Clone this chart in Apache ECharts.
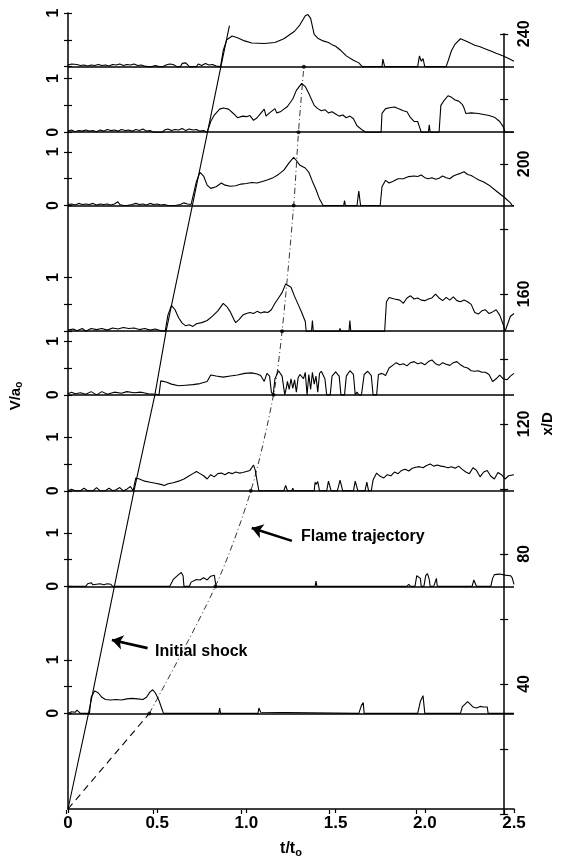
<!DOCTYPE html>
<html><head><meta charset="utf-8">
<script src="https://cdn.jsdelivr.net/npm/echarts@6/dist/echarts.min.js"></script>
<style>html,body{margin:0;padding:0;background:#fff}#c{width:563px;height:863px}</style>
</head><body><div id="c"></div>
<script>
// gauge stations (x/D) from top to bottom
const stations = [229.8, 209.5, 186.8, 147.9, 128.2, 98.5, 68.9, 29.6];
const showZeroLabel = [false, true, true, false, true, true, true, true];
// x/D units per 1 V/a0
const velScale = 16.6;

const xTicks = [0, 0.5, 1.0, 1.5, 2.0, 2.5];
const rightTicks = [40, 80, 120, 160, 200, 240];

// V/a0 traces [t/t0, V/a0]
const trace230 = [[0.00,0.03],[0.02,0.05],[0.03,0.02],[0.05,0.04],[0.07,0.02],[0.09,0.03],[0.11,0.01],[0.13,0.03],[0.15,0.02],[0.17,0.04],[0.19,0.02],[0.21,0.03],[0.23,0.01],[0.25,0.04],[0.27,0.03],[0.29,0.05],[0.31,0.02],[0.33,0.04],[0.35,0.03],[0.37,0.05],[0.39,0.02],[0.41,0.03],[0.43,0.01],[0.45,0.0],[0.47,0.0],[0.49,0.02],[0.51,0.0],[0.53,0.0],[0.55,0.03],[0.57,0.05],[0.59,0.04],[0.61,0.0],[0.63,0.0],[0.64,0.06],[0.65,0.03],[0.66,0.07],[0.68,0.0],[0.72,0.0],[0.73,0.05],[0.75,0.02],[0.77,0.06],[0.79,0.03],[0.81,0.04],[0.83,0.01],[0.855,0.0],
[0.87,0.3],[0.89,0.5],[0.92,0.57],[0.95,0.54],[0.99,0.48],[1.03,0.44],[1.1,0.43],[1.16,0.45],[1.21,0.52],[1.27,0.66],[1.30,0.78],[1.33,0.95],[1.345,0.97],[1.36,0.9],[1.38,0.6],[1.40,0.53],[1.43,0.48],[1.46,0.45],[1.48,0.41],[1.50,0.38],[1.53,0.3],[1.56,0.2],[1.60,0.12],[1.63,0.07],[1.65,0.0],[1.76,0.0],[1.765,0.14],[1.775,0.0],[1.96,0.0],[1.97,0.2],[1.98,0.1],[1.99,0.15],[2.0,0.0],[2.12,0.0],[2.15,0.3],[2.17,0.42],[2.2,0.52],[2.23,0.48],[2.26,0.43],[2.28,0.4],[2.31,0.37],[2.34,0.33],[2.37,0.29],[2.40,0.25],[2.44,0.2],[2.47,0.15],[2.5,0.1]];

const trace210 = [[0.00,0.02],[0.02,0.04],[0.04,0.01],[0.06,0.03],[0.08,0.02],[0.10,0.04],[0.12,0.02],[0.14,0.03],[0.16,0.01],[0.18,0.04],[0.20,0.02],[0.22,0.05],[0.24,0.03],[0.26,0.04],[0.28,0.02],[0.30,0.05],[0.32,0.03],[0.34,0.04],[0.36,0.02],[0.38,0.05],[0.40,0.03],[0.42,0.06],[0.44,0.02],[0.46,0.03],[0.48,0.0],[0.53,0.0],[0.54,0.04],[0.56,0.06],[0.58,0.03],[0.60,0.05],[0.62,0.04],[0.64,0.07],[0.66,0.03],[0.68,0.06],[0.70,0.04],[0.72,0.05],[0.74,0.02],[0.76,0.03],[0.78,0.0],
[0.80,0.2],[0.82,0.32],[0.85,0.43],[0.87,0.45],[0.90,0.43],[0.93,0.34],[0.95,0.27],[0.98,0.3],[1.0,0.29],[1.02,0.31],[1.04,0.22],[1.06,0.27],[1.08,0.35],[1.10,0.43],[1.11,0.3],[1.13,0.36],[1.16,0.44],[1.17,0.36],[1.19,0.38],[1.21,0.43],[1.23,0.48],[1.26,0.62],[1.28,0.78],[1.31,0.91],[1.33,0.85],[1.35,0.72],[1.38,0.5],[1.40,0.44],[1.42,0.4],[1.44,0.42],[1.46,0.36],[1.48,0.38],[1.50,0.34],[1.52,0.3],[1.54,0.32],[1.56,0.27],[1.58,0.3],[1.60,0.25],[1.62,0.12],[1.65,0.04],[1.67,0.0],[1.755,0.0],[1.76,0.35],[1.78,0.44],[1.81,0.46],[1.83,0.47],[1.85,0.44],[1.88,0.4],[1.90,0.38],[1.92,0.27],[1.94,0.2],[1.96,0.2],[1.97,0.1],[1.98,0.0],[2.02,0.0],[2.025,0.14],[2.03,0.0],[2.08,0.0],[2.09,0.5],[2.11,0.6],[2.13,0.68],[2.15,0.65],[2.17,0.6],[2.19,0.58],[2.21,0.52],[2.22,0.45],[2.23,0.35],[2.26,0.36],[2.30,0.35],[2.33,0.33],[2.36,0.31],[2.39,0.28],[2.42,0.2],[2.44,0.1],[2.45,0.0],[2.5,0.0]];

const trace187 = [[0.00,0.02],[0.02,0.03],[0.04,0.01],[0.06,0.04],[0.08,0.02],[0.10,0.03],[0.12,0.02],[0.14,0.04],[0.16,0.01],[0.18,0.03],[0.20,0.02],[0.22,0.03],[0.24,0.01],[0.26,0.03],[0.28,0.07],[0.29,0.02],[0.31,0.0],[0.33,0.0],[0.34,0.03],[0.36,0.02],[0.38,0.04],[0.40,0.02],[0.42,0.03],[0.44,0.01],[0.46,0.04],[0.48,0.02],[0.50,0.03],[0.52,0.01],[0.54,0.02],[0.56,0.0],[0.60,0.0],[0.61,0.03],[0.63,0.02],[0.65,0.05],[0.67,0.03],[0.69,0.02],[0.70,0.0],
[0.72,0.45],[0.74,0.62],[0.76,0.55],[0.78,0.38],[0.80,0.32],[0.83,0.35],[0.86,0.42],[0.88,0.38],[0.91,0.36],[0.94,0.37],[0.97,0.4],[1.00,0.41],[1.03,0.43],[1.06,0.42],[1.09,0.45],[1.12,0.48],[1.15,0.52],[1.18,0.58],[1.21,0.66],[1.24,0.8],[1.265,0.9],[1.28,0.84],[1.30,0.75],[1.33,0.7],[1.35,0.62],[1.37,0.45],[1.39,0.3],[1.41,0.12],[1.43,0.0],[1.545,0.0],[1.55,0.09],[1.555,0.0],[1.62,0.0],[1.63,0.27],[1.64,0.0],[1.75,0.0],[1.76,0.35],[1.78,0.47],[1.80,0.42],[1.82,0.45],[1.85,0.5],[1.88,0.5],[1.91,0.54],[1.94,0.55],[1.96,0.54],[1.98,0.57],[2.0,0.52],[2.02,0.5],[2.04,0.52],[2.06,0.49],[2.08,0.51],[2.10,0.55],[2.12,0.52],[2.14,0.5],[2.16,0.55],[2.18,0.58],[2.20,0.6],[2.22,0.63],[2.24,0.58],[2.26,0.56],[2.28,0.52],[2.30,0.48],[2.33,0.44],[2.36,0.38],[2.39,0.3],[2.42,0.22],[2.45,0.14],[2.48,0.05],[2.49,0.0],[2.5,0.0]];

const trace148 = [[0,0.02],[0.03,0.04],[0.05,0.01],[0.08,0.05],[0.1,0.0],[0.13,0.05],[0.16,0.03],[0.19,0.05],[0.22,0.02],[0.25,0.06],[0.28,0.04],[0.31,0.07],[0.34,0.05],[0.37,0.06],[0.40,0.03],[0.43,0.05],[0.46,0.02],[0.49,0.04],[0.52,0.01],[0.545,0.0],[0.56,0.3],[0.58,0.48],[0.60,0.4],[0.62,0.25],[0.64,0.15],[0.66,0.1],[0.68,0.12],[0.70,0.09],[0.72,0.14],[0.75,0.16],[0.78,0.2],[0.81,0.28],[0.84,0.38],[0.87,0.52],[0.89,0.46],[0.91,0.36],[0.93,0.22],[0.94,0.16],[0.96,0.22],[0.98,0.3],[1.0,0.33],[1.02,0.35],[1.04,0.33],[1.06,0.37],[1.08,0.34],[1.10,0.36],[1.12,0.35],[1.14,0.4],[1.16,0.52],[1.18,0.62],[1.20,0.72],[1.22,0.88],[1.23,0.9],[1.25,0.82],[1.27,0.65],[1.29,0.5],[1.31,0.35],[1.33,0.18],[1.335,0.0],[1.365,0.0],[1.37,0.2],[1.375,0.0],[1.52,0.0],[1.525,0.05],[1.53,0.0],[1.575,0.0],[1.58,0.2],[1.585,0.0],[1.775,0.0],[1.785,0.55],[1.80,0.63],[1.83,0.6],[1.86,0.58],[1.88,0.52],[1.90,0.62],[1.92,0.66],[1.94,0.6],[1.96,0.62],[1.98,0.58],[2.0,0.57],[2.02,0.6],[2.04,0.62],[2.06,0.69],[2.08,0.62],[2.10,0.57],[2.12,0.63],[2.14,0.58],[2.16,0.64],[2.18,0.57],[2.20,0.55],[2.22,0.58],[2.24,0.55],[2.26,0.5],[2.28,0.35],[2.30,0.32],[2.32,0.38],[2.34,0.4],[2.36,0.33],[2.38,0.36],[2.40,0.4],[2.42,0.3],[2.44,0.12],[2.45,0.0],[2.46,0.0],[2.48,0.28],[2.5,0.33]];

const trace128 = [[0,0.02],[0.02,0.05],[0.04,0.02],[0.07,0.04],[0.1,0.01],[0.13,0.06],[0.16,0.0],[0.19,0.06],[0.22,0.01],[0.26,0.05],[0.3,0.03],[0.33,0.06],[0.37,0.04],[0.41,0.05],[0.45,0.02],[0.49,0.01],[0.51,0.0],[0.52,0.26],[0.55,0.24],[0.58,0.2],[0.62,0.17],[0.66,0.18],[0.70,0.19],[0.74,0.21],[0.78,0.25],[0.80,0.37],[0.83,0.35],[0.87,0.33],[0.91,0.35],[0.95,0.37],[0.99,0.4],[1.03,0.41],[1.06,0.39],[1.08,0.36],[1.10,0.25],[1.115,0.4],[1.13,0.35],[1.14,0.05],[1.15,0.0],[1.16,0.3],[1.18,0.45],[1.20,0.35],[1.215,0.0],[1.225,0.15],[1.23,0.25],[1.24,0.1],[1.25,0.3],[1.26,0.12],[1.27,0.28],[1.28,0.05],[1.29,0.32],[1.30,0.38],[1.32,0.3],[1.33,0.42],[1.34,0.0],[1.35,0.38],[1.36,0.1],[1.37,0.42],[1.38,0.2],[1.39,0.35],[1.40,0.05],[1.41,0.4],[1.42,0.44],[1.44,0.3],[1.45,0.0],[1.47,0.0],[1.48,0.35],[1.50,0.43],[1.52,0.35],[1.53,0.0],[1.55,0.0],[1.56,0.35],[1.58,0.45],[1.60,0.38],[1.61,0.0],[1.62,0.05],[1.63,0.0],[1.645,0.0],[1.66,0.38],[1.68,0.44],[1.70,0.36],[1.71,0.0],[1.73,0.0],[1.74,0.38],[1.76,0.4],[1.78,0.36],[1.80,0.5],[1.82,0.55],[1.84,0.6],[1.86,0.56],[1.88,0.58],[1.90,0.54],[1.92,0.6],[1.94,0.62],[1.96,0.58],[1.98,0.6],[2.00,0.56],[2.02,0.62],[2.04,0.65],[2.06,0.58],[2.08,0.55],[2.10,0.6],[2.12,0.57],[2.14,0.55],[2.16,0.6],[2.18,0.62],[2.20,0.56],[2.22,0.52],[2.24,0.5],[2.26,0.45],[2.28,0.44],[2.30,0.45],[2.32,0.42],[2.34,0.42],[2.36,0.38],[2.38,0.25],[2.40,0.3],[2.42,0.37],[2.44,0.3],[2.46,0.28],[2.48,0.35],[2.5,0.4]];

const trace99 = [[0,0.0],[0.02,0.03],[0.04,0.0],[0.07,0.0],[0.09,0.05],[0.11,0.0],[0.14,0.0],[0.16,0.06],[0.18,0.0],[0.21,0.0],[0.23,0.05],[0.25,0.0],[0.27,0.02],[0.29,0.06],[0.31,0.0],[0.33,0.03],[0.35,0.08],[0.365,0.0],[0.375,0.0],[0.38,0.24],[0.40,0.22],[0.43,0.18],[0.46,0.16],[0.49,0.14],[0.52,0.12],[0.54,0.1],[0.56,0.13],[0.59,0.15],[0.62,0.18],[0.65,0.22],[0.68,0.28],[0.70,0.32],[0.72,0.36],[0.74,0.32],[0.76,0.28],[0.78,0.22],[0.80,0.3],[0.82,0.26],[0.84,0.32],[0.86,0.33],[0.88,0.3],[0.90,0.34],[0.92,0.32],[0.94,0.35],[0.96,0.33],[0.98,0.34],[1.00,0.36],[1.02,0.38],[1.04,0.48],[1.05,0.38],[1.06,0.18],[1.07,0.0],[1.21,0.0],[1.22,0.1],[1.23,0.0],[1.255,0.0],[1.26,0.05],[1.265,0.0],[1.38,0.0],[1.385,0.16],[1.39,0.12],[1.40,0.17],[1.41,0.0],[1.45,0.0],[1.46,0.18],[1.475,0.0],[1.51,0.0],[1.525,0.2],[1.54,0.0],[1.60,0.0],[1.61,0.18],[1.625,0.0],[1.665,0.0],[1.675,0.16],[1.685,0.0],[1.70,0.0],[1.71,0.2],[1.73,0.33],[1.75,0.27],[1.77,0.24],[1.79,0.3],[1.81,0.28],[1.83,0.35],[1.85,0.32],[1.87,0.38],[1.89,0.4],[1.91,0.37],[1.93,0.42],[1.95,0.44],[1.97,0.45],[1.99,0.43],[2.01,0.47],[2.03,0.5],[2.05,0.46],[2.07,0.48],[2.09,0.46],[2.11,0.45],[2.13,0.43],[2.15,0.45],[2.17,0.42],[2.19,0.46],[2.21,0.4],[2.23,0.35],[2.25,0.32],[2.27,0.43],[2.29,0.38],[2.31,0.26],[2.33,0.35],[2.35,0.38],[2.37,0.27],[2.39,0.22],[2.41,0.34],[2.43,0.3],[2.45,0.22],[2.47,0.28],[2.5,0.3]];

const trace69 = [[0,0.0],[0.10,0.0],[0.11,0.05],[0.12,0.02],[0.13,0.07],[0.14,0.03],[0.15,0.06],[0.16,0.04],[0.17,0.07],[0.18,0.05],[0.19,0.06],[0.20,0.03],[0.21,0.06],[0.22,0.05],[0.23,0.02],[0.24,0.04],[0.25,0.0],[0.57,0.0],[0.575,0.03],[0.59,0.13],[0.62,0.22],[0.635,0.26],[0.645,0.2],[0.65,0.0],[0.68,0.0],[0.69,0.08],[0.70,0.05],[0.72,0.13],[0.74,0.12],[0.76,0.16],[0.78,0.12],[0.80,0.19],[0.82,0.21],[0.83,0.0],[1.385,0.0],[1.39,0.1],[1.395,0.0],[1.90,0.0],[1.91,0.04],[1.92,0.0],[1.945,0.0],[1.955,0.2],[1.965,0.23],[1.975,0.15],[1.98,0.0],[1.995,0.0],[2.005,0.2],[2.015,0.24],[2.025,0.13],[2.03,0.0],[2.05,0.0],[2.06,0.1],[2.065,0.15],[2.07,0.0],[2.265,0.0],[2.275,0.12],[2.285,0.1],[2.29,0.0],[2.37,0.0],[2.38,0.15],[2.39,0.22],[2.42,0.23],[2.45,0.21],[2.48,0.2],[2.49,0.16],[2.5,0.04]];

const trace30 = [[0,0.0],[0.02,0.03],[0.03,0.05],[0.04,0.02],[0.05,0.06],[0.06,0.03],[0.07,0.0],[0.12,0.0],[0.13,0.3],[0.15,0.42],[0.17,0.38],[0.19,0.3],[0.21,0.26],[0.24,0.25],[0.27,0.26],[0.30,0.25],[0.33,0.27],[0.36,0.28],[0.39,0.27],[0.42,0.26],[0.44,0.3],[0.46,0.4],[0.475,0.44],[0.49,0.38],[0.51,0.24],[0.53,0.05],[0.535,0.0],[0.845,0.0],[0.85,0.1],[0.855,0.0],[1.065,0.0],[1.07,0.1],[1.08,0.02],[1.09,0.0],[1.63,0.0],[1.645,0.15],[1.655,0.2],[1.66,0.0],[1.96,0.0],[1.975,0.22],[1.99,0.33],[2.0,0.0],[2.2,0.0],[2.21,0.12],[2.24,0.22],[2.27,0.12],[2.29,0.1],[2.31,0.13],[2.33,0.12],[2.35,0.12],[2.355,0.0],[2.5,0.0]];

const traces = [trace230, trace210, trace187, trace148, trace128, trace99, trace69, trace30];

// trajectories [t/t0, x/D]
const shockT = [0, 0.115, 0.26, 0.37, 0.487, 0.55, 0.697, 0.782, 0.857, 0.905];
const shockX = [0, 29.6, 68.9, 98.5, 128.2, 147.9, 186.8, 209.5, 229.8, 242.5];
const flameT = [0, 0.456, 0.826, 1.025, 1.152, 1.2, 1.265, 1.292, 1.322];
const flameX = [0, 29.6, 68.9, 98.5, 128.2, 147.9, 186.8, 209.5, 229.8];

const FONT = '"Liberation Sans", Arial, sans-serif';
const yMax = stations[0] + velScale;

const tickVals = [];
const labelVals = [];
stations.forEach((s, i) => {
  tickVals.push(s, s + velScale / 2, s + velScale);
  if (showZeroLabel[i]) labelVals.push(s);
  labelVals.push(s + velScale);
});
function leftLabel(v) {
  for (const s of stations) {
    if (Math.abs(v - s) < 0.01) return '0';
    if (Math.abs(v - s - velScale) < 0.01) return '1';
  }
  return '';
}

const series = [];
traces.forEach((tr, i) => {
  series.push({
    type: 'line', xAxisIndex: 0, yAxisIndex: 0, showSymbol: false, silent: true,
    lineStyle: { color: '#000', width: 1.1 },
    data: tr.map(p => [p[0], stations[i] + p[1] * velScale]),
    markLine: {
      silent: true, symbol: 'none', label: { show: false },
      lineStyle: { color: '#000', width: 1.6, type: 'solid' },
      data: [{ yAxis: stations[i] }]
    },
    z: 3
  });
});
const shockData = shockT.map((t, i) => [t, shockX[i]]);
const flameData = flameT.map((t, i) => [t, flameX[i]]);
series.push({
  type: 'line', xAxisIndex: 0, yAxisIndex: 0, showSymbol: false, silent: true,
  lineStyle: { color: '#000', width: 1.1 },
  data: shockData,
  markLine: {
    silent: true, symbol: ['none', 'arrow'], symbolSize: 11, label: { show: false },
    lineStyle: { color: '#000', width: 2.6, type: 'solid' },
    data: [
      [{ coord: [1.255, 83.0] }, { coord: [1.03, 87.0] }],
      [{ coord: [0.446, 49.8] }, { coord: [0.246, 52.3] }]
    ]
  },
  z: 4
});
series.push({
  type: 'line', xAxisIndex: 0, yAxisIndex: 0, showSymbol: false, silent: true,
  lineStyle: { color: '#000', width: 1.1, type: [7, 5] },
  data: flameData.slice(0, 2), z: 4
});
series.push({
  type: 'line', xAxisIndex: 0, yAxisIndex: 0, showSymbol: false, silent: true, smooth: 0.3,
  lineStyle: { color: '#000', width: 0.8, type: [6, 3, 1, 3] },
  data: flameData.slice(1), z: 4
});
series.push({
  type: 'scatter', xAxisIndex: 0, yAxisIndex: 0, silent: true, symbolSize: 4,
  itemStyle: { color: '#000' }, data: flameData.slice(1), z: 5
});

const chart = echarts.init(document.getElementById('c'), null, { renderer: 'canvas' });
chart.setOption({
  animation: false,
  backgroundColor: '#fff',
  grid: [
    { left: 66, right: 49, top: 13, bottom: 49 },
    { left: 66, right: 49, top: 863 - 49 - 240 * (801 / yMax), bottom: 49 }
  ],
  xAxis: [
    {
      gridIndex: 0, type: 'value', min: 0, max: 2.5, interval: 0.5,
      name: '{a|t/t}{s|o}', nameLocation: 'middle', nameGap: 30,
      nameTextStyle: { rich: { a: { fontFamily: FONT, fontWeight: 'bold', fontSize: 16, color: '#000' }, s: { fontFamily: FONT, fontWeight: 'bold', fontSize: 11, color: '#000', padding: [8, 0, 0, 0] } } },
      axisLine: { onZero: false, lineStyle: { color: '#000', width: 1.5 } },
      axisTick: { length: 4, lineStyle: { color: '#000', width: 1.2 } },
      axisLabel: { color: '#000', fontFamily: FONT, fontWeight: 'bold', fontSize: 17, margin: 6,
        formatter: v => (v === 0 ? '0' : v.toFixed(1)) },
      splitLine: { show: false }
    },
    {
      gridIndex: 1, type: 'value', min: 0, max: 2.5, interval: 0.5,
      axisLine: { show: false, onZero: false },
      axisTick: { inside: true, length: 4, lineStyle: { color: '#000', width: 1.2 } },
      axisLabel: { show: false }, splitLine: { show: false }
    }
  ],
  yAxis: [
    {
      gridIndex: 0, type: 'value', position: 'left', min: 0, max: yMax,
      name: '{a|V/a}{s|o}', nameLocation: 'middle', nameRotate: 90, nameGap: 44,
      nameTextStyle: { padding: [0, 0, 0, 30], rich: { a: { fontFamily: FONT, fontWeight: 'bold', fontSize: 15, color: '#000' }, s: { fontFamily: FONT, fontWeight: 'bold', fontSize: 10, color: '#000', padding: [7, 0, 0, 0] } } },
      axisLine: { show: true, onZero: false, lineStyle: { color: '#000', width: 1.5 } },
      axisTick: { show: true, length: 4, customValues: tickVals, lineStyle: { color: '#000', width: 1.2 } },
      axisLabel: { show: true, customValues: labelVals, formatter: leftLabel, rotate: 90, margin: 6,
        color: '#000', fontFamily: FONT, fontWeight: 'bold', fontSize: 16 },
      splitLine: { show: false }
    },
    {
      gridIndex: 0, type: 'value', position: 'left', min: 0, max: yMax,
      axisLine: { show: false, onZero: false },
      axisTick: { show: true, inside: true, length: 4, customValues: tickVals, lineStyle: { color: '#000', width: 1.2 } },
      axisLabel: { show: false }, splitLine: { show: false }
    },
    {
      gridIndex: 1, type: 'value', position: 'right', min: 0, max: 240, interval: 20,
      name: 'x/D', nameLocation: 'middle', nameRotate: 90, nameGap: 31,
      nameTextStyle: { fontFamily: FONT, fontWeight: 'bold', fontSize: 15, color: '#000' },
      axisLine: { show: true, onZero: false, lineStyle: { color: '#000', width: 1.5 } },
      axisTick: { show: true, length: 4, lineStyle: { color: '#000', width: 1.2 } },
      axisLabel: { show: true, rotate: 90, margin: 12, color: '#000', fontFamily: FONT, fontWeight: 'bold', fontSize: 16,
        formatter: v => (rightTicks.indexOf(v) >= 0 ? String(v) : '') },
      splitLine: { show: false }
    },
    {
      gridIndex: 1, type: 'value', position: 'right', min: 0, max: 240, interval: 20,
      axisLine: { show: false, onZero: false },
      axisTick: { show: true, inside: true, length: 4, lineStyle: { color: '#000', width: 1.2 } },
      axisLabel: { show: false }, splitLine: { show: false }
    }
  ],
  graphic: [
    { type: 'text', left: 301, top: 529, style: { text: 'Flame trajectory', font: 'bold 16px ' + FONT, fill: '#000' } },
    { type: 'text', left: 155, top: 644, style: { text: 'Initial shock', font: 'bold 16px ' + FONT, fill: '#000' } }
  ],
  series: series
});
</script>
</body></html>
